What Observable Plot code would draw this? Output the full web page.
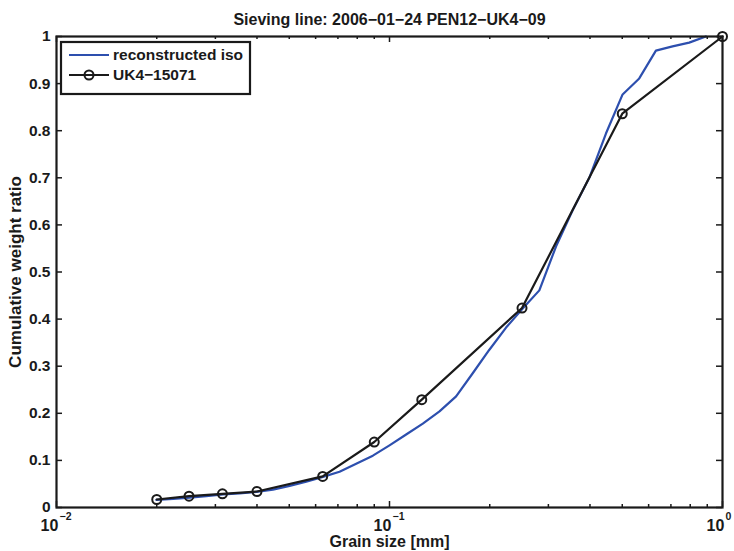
<!DOCTYPE html>
<html>
<head>
<meta charset="utf-8">
<script src="https://cdn.jsdelivr.net/npm/d3@7"></script>
<script src="https://cdn.jsdelivr.net/npm/@observablehq/plot@0.6"></script>
<style>
  html, body { margin: 0; padding: 0; background: #fff; }
  #chart svg { display: block; }
</style>
</head>
<body>
<div id="chart"></div>
<script>
// ---- data ----
const titleText = "Sieving line: 2006\u221201\u221224 PEN12\u2212UK4\u221209";
const xLabel = "Grain size [mm]";
const yLabel = "Cumulative weight ratio";
const seriesNames = ["reconstructed iso", "UK4\u221215071"];

// reconstructed iso (blue line)
const isoX = [0.01995, 0.02239, 0.02512, 0.02818, 0.03162, 0.03548, 0.03981, 0.04467, 0.05012, 0.05623,
              0.06310, 0.07079, 0.07943, 0.08913, 0.1000, 0.1122, 0.1259, 0.1413, 0.1585, 0.1778,
              0.1995, 0.2239, 0.2512, 0.2818, 0.3162, 0.3548, 0.3981, 0.4467, 0.5012, 0.5623,
              0.6310, 0.7079, 0.7943, 0.8913];
const isoY = [0.016, 0.018, 0.021, 0.024, 0.028, 0.030, 0.033, 0.038, 0.046, 0.055,
              0.065, 0.076, 0.093, 0.110, 0.132, 0.155, 0.178, 0.204, 0.236, 0.285,
              0.335, 0.382, 0.4225, 0.461, 0.554, 0.631, 0.700, 0.794, 0.877, 0.911,
              0.970, 0.979, 0.987, 1.000];

// UK4-15071 sieve (black line with circles)
const sieveX = [0.02, 0.025, 0.0315, 0.04, 0.063, 0.09, 0.125, 0.25, 0.5, 1.0];
const sieveY = [0.017, 0.024, 0.029, 0.034, 0.066, 0.139, 0.229, 0.4235, 0.836, 1.0];

// ticks
const xMajorTicks = [0.01, 0.1, 1];
const xExponents = ["\u22122", "\u22121", "0"];
const xMinorTicks = [0.02, 0.03, 0.04, 0.05, 0.06, 0.07, 0.08, 0.09,
                     0.2, 0.3, 0.4, 0.5, 0.6, 0.7, 0.8, 0.9];
const yTicks = [0, 0.1, 0.2, 0.3, 0.4, 0.5, 0.6, 0.7, 0.8, 0.9, 1];
const yTickLabels = ["0", "0.1", "0.2", "0.3", "0.4", "0.5", "0.6", "0.7", "0.8", "0.9", "1"];

// ---- build ----
const iso = isoX.map((x, i) => ({x, y: isoY[i]}));
const sieve = sieveX.map((x, i) => ({x, y: sieveY[i]}));
const xMajor = xMajorTicks.map((v, i) => ({v, e: xExponents[i]}));
const yT = yTicks.map((v, i) => ({v, t: yTickLabels[i]}));

const W = 734, H = 551;
const mL = 56, mR = 12, mT = 36, mB = 44;
const pw = W - mL - mR, ph = H - mT - mB;
const BLUE = "#2d4fae", INK = "#1a1a1a";
const font = "'Liberation Sans', Arial, Helvetica, sans-serif";

const chart = Plot.plot({
  width: W, height: H,
  marginLeft: mL, marginRight: mR, marginTop: mT, marginBottom: mB,
  x: {type: "log", domain: [0.01, 1], axis: null},
  y: {domain: [0, 1], axis: null},
  style: {fontFamily: font, fontWeight: "bold", background: "#fff", color: INK, overflow: "visible"},
  marks: [
    // data
    Plot.line(iso, {x: "x", y: "y", stroke: BLUE, strokeWidth: 2.2}),
    Plot.line(sieve, {x: "x", y: "y", stroke: INK, strokeWidth: 2.2}),
    Plot.dot(sieve, {x: "x", y: "y", r: 4.5, stroke: INK, strokeWidth: 2, fill: "none"}),
    // ticks (inward, all four sides)
    Plot.tickX(xMajorTicks, {x: d => d, insetTop: ph - 6, stroke: INK, strokeWidth: 1.5}),
    Plot.tickX(xMajorTicks, {x: d => d, insetBottom: ph - 6, stroke: INK, strokeWidth: 1.5}),
    Plot.tickX(xMinorTicks, {x: d => d, insetTop: ph - 3, stroke: INK, strokeWidth: 1.5}),
    Plot.tickX(xMinorTicks, {x: d => d, insetBottom: ph - 3, stroke: INK, strokeWidth: 1.5}),
    Plot.tickY(yTicks, {y: d => d, insetRight: pw - 6, stroke: INK, strokeWidth: 1.5}),
    Plot.tickY(yTicks, {y: d => d, insetLeft: pw - 6, stroke: INK, strokeWidth: 1.5}),
    Plot.frame({stroke: INK, strokeWidth: 2.2}),
    // tick labels
    Plot.text(yT, {y: "v", text: "t", frameAnchor: "left", textAnchor: "end", lineAnchor: "middle", dx: -6, fontSize: 15.5, fill: INK}),
    Plot.text(xMajor, {x: "v", text: () => "10", frameAnchor: "bottom", textAnchor: "middle", lineAnchor: "middle", dy: 18, dx: -7, fontSize: 16, fill: INK}),
    Plot.text(xMajor, {x: "v", text: "e", frameAnchor: "bottom", textAnchor: "start", lineAnchor: "middle", dy: 9, dx: 3, fontSize: 10.5, fill: INK}),
    // axis labels & title
    Plot.text([xLabel], {text: d => d, frameAnchor: "bottom", textAnchor: "middle", lineAnchor: "middle", dy: 34, fontSize: 16, fill: INK}),
    Plot.text([yLabel], {text: d => d, frameAnchor: "left", textAnchor: "middle", lineAnchor: "middle", dx: -41, rotate: -90, fontSize: 17, fill: INK}),
    Plot.text([titleText], {text: d => d, frameAnchor: "top", textAnchor: "middle", lineAnchor: "middle", dy: -17, fontSize: 16, fill: INK})
  ]
});

// legend (non-data decoration)
const svg = d3.select(chart);
const lg = svg.append("g").attr("font-family", font).attr("font-weight", "bold")
  .attr("font-size", 15.5).attr("text-anchor", "start");
lg.append("rect").attr("x", 61).attr("y", 42).attr("width", 189).attr("height", 52)
  .attr("fill", "#fff").attr("stroke", INK).attr("stroke-width", 2.2);
const rows = [
  {name: seriesNames[0], color: BLUE, marker: false, y: 55},
  {name: seriesNames[1], color: INK, marker: true, y: 75}
];
rows.forEach(r => {
  lg.append("line").attr("x1", 69).attr("x2", 109).attr("y1", r.y).attr("y2", r.y)
    .attr("stroke", r.color).attr("stroke-width", 2.2);
  if (r.marker) lg.append("circle").attr("cx", 89).attr("cy", r.y).attr("r", 4.5)
    .attr("fill", "none").attr("stroke", r.color).attr("stroke-width", 2);
  lg.append("text").attr("x", 113).attr("y", r.y).attr("dy", "0.35em")
    .attr("text-anchor", "start").attr("fill", INK).text(r.name);
});

document.getElementById("chart").appendChild(chart);
</script>
</body>
</html>
